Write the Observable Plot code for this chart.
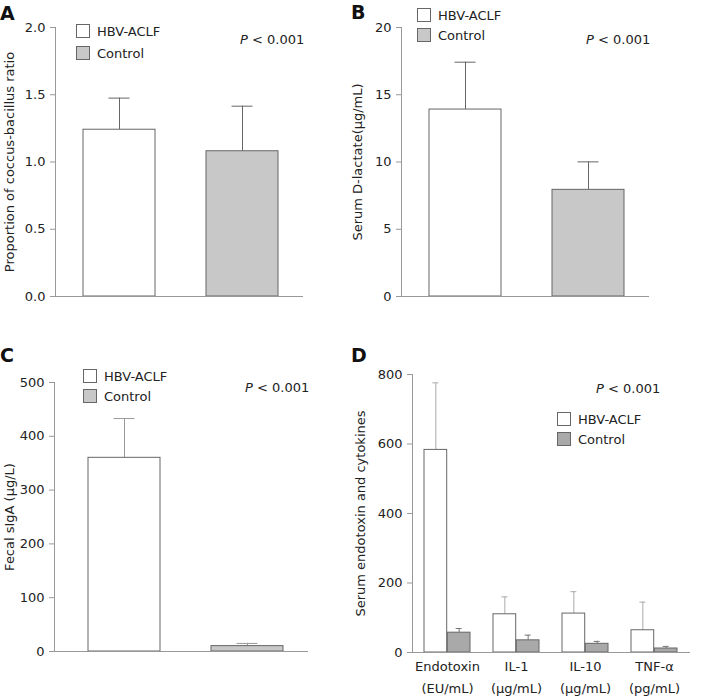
<!DOCTYPE html>
<html>
<head>
<meta charset="utf-8">
<script src="https://cdn.jsdelivr.net/npm/d3@7"></script>
<script src="https://cdn.jsdelivr.net/npm/@observablehq/plot@0.6"></script>
<style>
  html, body { margin: 0; padding: 0; background: #fff; }
  #wrap { position: relative; width: 702px; height: 696px; font-family: "DejaVu Sans", sans-serif; }
  .panel { position: absolute; }
  #overlay { position: absolute; left: 0; top: 0; pointer-events: none; }
</style>
</head>
<body>
<div id="wrap"></div>
<script>
// ---------- data ----------
const groups = ["HBV-ACLF", "Control"];
const aMean = [1.24, 1.08];
const aSD = [0.235, 0.335];
const bMean = [13.9, 7.93];
const bSD = [3.52, 2.08];
const cMean = [360, 10];
const cSD = [73, 5];
const dCats = ["Endotoxin\n(EU/mL)", "IL-1\n(\u03bcg/mL)", "IL-10\n(\u03bcg/mL)", "TNF-\u03b1\n(pg/mL)"];
const dHbvMean = [583, 110, 112, 64];
const dHbvSD = [193, 50, 63, 81];
const dCtrlMean = [57, 35, 25, 11.5];
const dCtrlSD = [12, 15, 7, 6];
const aTicks = [0, 0.5, 1, 1.5, 2];
const bTicks = [0, 5, 10, 15, 20];
const cTicks = [0, 100, 200, 300, 400, 500];
const dTicks = [0, 200, 400, 600, 800];

const FONT = "DejaVu Sans";
const AXIS = "#999";
const EDGE = "#666";
const CTRL = "#c8c8c8";
const CTRL_D = "#a9a9a9";

const wrap = document.getElementById("wrap");

function place(el, left, top) {
  const d = document.createElement("div");
  d.className = "panel";
  d.style.left = left + "px";
  d.style.top = top + "px";
  d.appendChild(el);
  wrap.appendChild(d);
}

function simplePanel(o) {
  const rows = groups.map((g, i) => ({group: g, mean: o.mean[i], sd: o.sd[i]}));
  return Plot.plot({
    width: o.width, height: o.height,
    marginLeft: o.ml, marginRight: o.mr, marginTop: o.mt, marginBottom: o.mb,
    style: {fontFamily: FONT, fontSize: "13px", color: "#222", background: "transparent", overflow: "visible"},
    x: {domain: groups, paddingInner: o.pi, paddingOuter: o.po, align: o.align, axis: null},
    y: {domain: o.domain, axis: null},
    marks: [
      Plot.ruleX(rows, {x: "group", y1: "mean", y2: d => d.mean + d.sd, stroke: o.err}),
      Plot.tickY(rows, {x: "group", y: d => d.mean + d.sd, stroke: o.err, insetLeft: o.cap, insetRight: o.cap}),
      Plot.barY(rows.filter(d => d.group === groups[0]), {x: "group", y: "mean", fill: "#fff", stroke: EDGE}),
      Plot.barY(rows.filter(d => d.group === groups[1]), {x: "group", y: "mean", fill: CTRL, stroke: EDGE}),
      Plot.axisY({ticks: o.ticks, tickFormat: o.fmt, tickSize: 5, tickPadding: 5, stroke: AXIS, color: "#222",
        label: o.label, labelAnchor: "center", labelOffset: o.lo, labelArrow: false}),
      Plot.ruleY([0], {stroke: AXIS}),
      Plot.frame({anchor: "left", stroke: AXIS})
    ]
  });
}

// Panel A
place(simplePanel({mean: aMean, sd: aSD, domain: [0, 2], ticks: aTicks, fmt: ".1f",
  label: "Proportion of coccus-bacillus ratio", lo: 51,
  width: 351, height: 330, ml: 55, mr: 48, mt: 27, mb: 34,
  pi: 0.411, po: 0.206, align: 0.53, err: "#666", cap: 25.5}), 0, 0);

// Panel B
place(simplePanel({mean: bMean, sd: bSD, domain: [0, 20], ticks: bTicks, fmt: "d",
  label: "Serum D-lactate(\u03bcg/mL)", lo: 49,
  width: 351, height: 330, ml: 50, mr: 53, mt: 27, mb: 34,
  pi: 0.411, po: 0.206, align: 0.53, err: "#666", cap: 25.5}), 351, 0);

// Panel C
place(simplePanel({mean: cMean, sd: cSD, domain: [0, 500], ticks: cTicks, fmt: "d",
  label: "Fecal sIgA (\u03bcg/L)", lo: 50,
  width: 351, height: 356, ml: 54, mr: 43, mt: 42, mb: 45,
  pi: 0.415, po: 0.232, align: 0.574, err: "#999", cap: 25.5}), 0, 340);

// Panel D
(function () {
  const hbv = dCats.map((c, i) => ({cat: c, mean: dHbvMean[i], sd: dHbvSD[i]}));
  const ctrl = dCats.map((c, i) => ({cat: c, mean: dCtrlMean[i], sd: dCtrlSD[i]}));
  const half = 23.3, capIn = 20;
  const chart = Plot.plot({
    width: 351, height: 356,
    marginLeft: 61, marginRight: 12, marginTop: 34, marginBottom: 44,
    style: {fontFamily: FONT, fontSize: "13px", color: "#222", background: "transparent", overflow: "visible"},
    x: {domain: dCats, paddingInner: 0.331, paddingOuter: 0.16, axis: null},
    y: {domain: [0, 800], axis: null},
    marks: [
      Plot.ruleX(hbv, {x: "cat", y1: "mean", y2: d => d.mean + d.sd, dx: -half / 2, stroke: "#aaa"}),
      Plot.tickY(hbv, {x: "cat", y: d => d.mean + d.sd, dx: -half / 2, insetLeft: capIn, insetRight: capIn, stroke: "#aaa"}),
      Plot.ruleX(ctrl, {x: "cat", y1: "mean", y2: d => d.mean + d.sd, dx: half / 2, stroke: "#777"}),
      Plot.tickY(ctrl, {x: "cat", y: d => d.mean + d.sd, dx: half / 2, insetLeft: capIn, insetRight: capIn, stroke: "#777"}),
      Plot.barY(hbv, {x: "cat", y: "mean", insetRight: half, fill: "#fff", stroke: EDGE}),
      Plot.barY(ctrl, {x: "cat", y: "mean", insetLeft: half, fill: CTRL_D, stroke: EDGE}),
      Plot.axisY({ticks: dTicks, tickFormat: "d", tickSize: 5, tickPadding: 5, stroke: AXIS, color: "#222",
        label: "Serum endotoxin and cytokines", labelAnchor: "center", labelOffset: 57, labelArrow: false}),
      Plot.ruleY([0], {stroke: AXIS}),
      Plot.frame({anchor: "left", stroke: AXIS}),
      Plot.text(dCats, {x: d => d, frameAnchor: "bottom", lineAnchor: "top", dy: 3, lineHeight: 1.7, fill: "#222"})
    ]
  });
  place(chart, 351, 340);
})();

// ---------- overlay: panel letters, legends, P values ----------
const svg = d3.select("#wrap").append("svg").attr("id", "overlay")
  .attr("width", 702).attr("height", 696)
  .style("font-family", FONT);

const letters = [["A", 0, 20], ["B", 351, 19], ["C", 0, 362], ["D", 351, 362]];
svg.selectAll("text.letter").data(letters).join("text")
  .attr("x", d => d[1]).attr("y", d => d[2])
  .attr("font-size", 19).attr("font-weight", "bold").attr("fill", "#111")
  .text(d => d[0]);

const legends = [
  {x: 76, y1: 24, y2: 46, ctrl: CTRL},
  {x: 417, y1: 8, y2: 28, ctrl: CTRL},
  {x: 83, y1: 369, y2: 389, ctrl: CTRL},
  {x: 557, y1: 412, y2: 432, ctrl: CTRL_D}
];
legends.forEach(l => {
  [[l.y1, "#fff", groups[0]], [l.y2, l.ctrl, groups[1]]].forEach(([y, f, t]) => {
    svg.append("rect").attr("x", l.x + 0.5).attr("y", y + 0.5).attr("width", 13).attr("height", 13)
      .attr("fill", f).attr("stroke", EDGE);
    svg.append("text").attr("x", l.x + 21).attr("y", y + 11.5).attr("font-size", 13).attr("fill", "#222").text(t);
  });
});

const pvals = [[240, 44], [586, 44], [245, 392], [596, 393]];
pvals.forEach(([x, y]) => {
  const t = svg.append("text").attr("x", x).attr("y", y).attr("font-size", 13).attr("fill", "#222");
  t.append("tspan").attr("font-style", "italic").text("P");
  t.append("tspan").text(" < 0.001");
});
</script>
</body>
</html>
